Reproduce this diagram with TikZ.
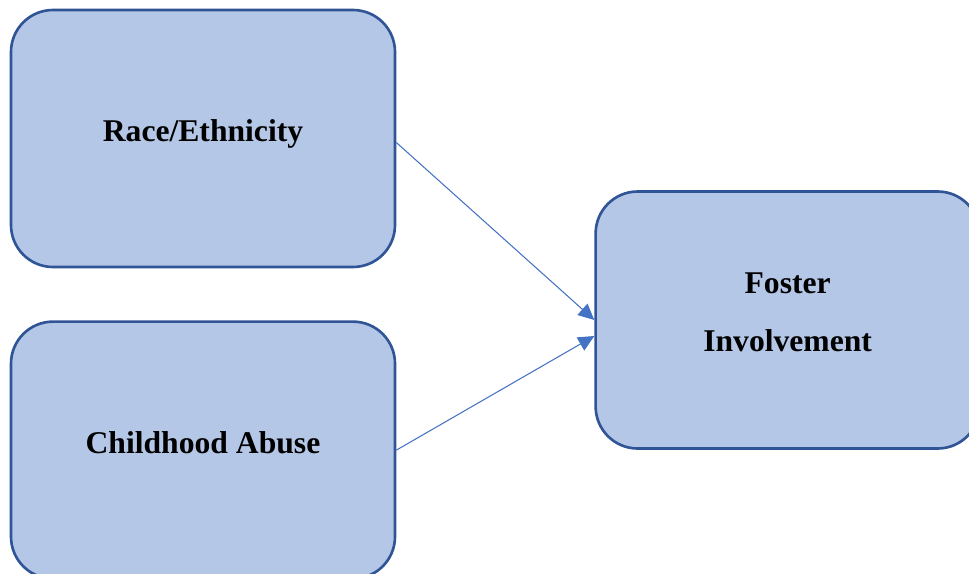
\documentclass[tikz,border=0pt]{standalone}
\usepackage{fontspec}
\setmainfont{Liberation Serif}
\usepackage{xcolor}
\usepackage{tikz}
\usetikzlibrary{arrows.meta,positioning}

\definecolor{boxfill}{HTML}{B4C7E7}
\definecolor{boxline}{HTML}{2F5597}
\definecolor{linkblue}{HTML}{4472C4}

\begin{document}
\begin{tikzpicture}[font=\bfseries\fontsize{18}{33}\selectfont,
  main box/.style={rectangle,rounded corners=0.84cm,draw=boxline,fill=boxfill,
    line width=1.5pt,minimum width=7.68cm,minimum height=5.14cm,
    align=center,text depth=0.32cm},
  link/.style={draw=linkblue,line width=0.6pt,
    -{Triangle[length=0.32cm,width=0.3cm]}}]

  \useasboundingbox (0,0) rectangle (19.38,-11.46);

  \node[main box] (race) at (4.06,-2.77) {Race/Ethnicity};
  \node[main box] (abuse) [below=1.04cm of race] {Childhood Abuse};
  \node[main box,yshift=-3.63cm] (foster) [right=3.96cm of race] {Foster\\Involvement};

  \draw[link] ([yshift=-0.08cm]race.east) -- (foster.west);
  \draw[link] (abuse.east) -- ([yshift=-0.32cm]foster.west);
\end{tikzpicture}
\end{document}
